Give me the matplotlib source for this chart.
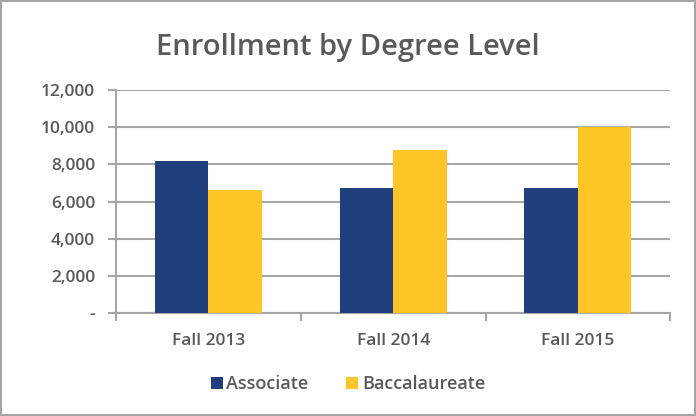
import matplotlib
matplotlib.use('Agg')
from matplotlib import pyplot as plt
from matplotlib.patches import Rectangle
import numpy as np

# values
terms = ['Fall 2013', 'Fall 2014', 'Fall 2015']
associate = [8200, 6730, 6730]
baccalaureate = [6630, 8780, 10000]
y_ticks = [0, 2000, 4000, 6000, 8000, 10000, 12000]

navy = '#203f7c'
gold = '#fdc526'
grid_grey = '#a6a6a6'
text_grey = '#595959'

plt.rcParams['font.family'] = ['Open Sans', 'DejaVu Sans']

fig = plt.figure(figsize=(6.96, 4.16), dpi=100)
ax = fig.add_axes([0.1667, 0.247, 0.7963, 0.537])

x = np.arange(len(terms))
w = 0.29
ax.bar(x - w / 2, associate, w, color=navy, label='Associate', zorder=3)
ax.bar(x + w / 2, baccalaureate, w, color=gold, label='Baccalaureate', zorder=3)

ax.set_xlim(-0.5, len(terms) - 0.5)
ax.set_ylim(0, 12000)
ax.set_yticks(y_ticks)
ax.set_yticklabels(['-' if v == 0 else f'{v:,}' for v in y_ticks])
ax.set_xticks(x)
ax.set_xticklabels(terms)
ax.set_xticks(np.arange(len(terms) + 1) - 0.5, minor=True)

ax.grid(axis='y', color=grid_grey, linewidth=1.5, zorder=0)
for side in ['top', 'right']:
    ax.spines[side].set_visible(False)
for side in ['left', 'bottom']:
    ax.spines[side].set_color(grid_grey)
    ax.spines[side].set_linewidth(1.5)

ax.tick_params(axis='y', length=6, width=1.5, color=grid_grey, labelcolor=text_grey,
               labelsize=12.5, pad=9)
ax.tick_params(axis='x', which='major', length=0, labelcolor=text_grey, labelsize=12.5, pad=14)
ax.tick_params(axis='x', which='minor', length=6, width=1.5, color=grid_grey)
for lab in ax.get_xticklabels() + ax.get_yticklabels():
    lab.set_fontweight('semibold')

fig.text(0.5, 0.887, 'Enrollment by Degree Level', ha='center', va='center',
         fontsize=21, color=text_grey, fontweight='semibold')

leg = fig.legend(loc='center', bbox_to_anchor=(0.5, 0.077), ncol=2, frameon=False,
                 fontsize=13, handlelength=0.65, handleheight=0.65, columnspacing=2.1,
                 handletextpad=0.2)
for t in leg.get_texts():
    t.set_color(text_grey)
    t.set_fontweight('semibold')

fig.patches.append(Rectangle((0.002, 0.003), 0.996, 0.994, transform=fig.transFigure,
                             fill=False, edgecolor=grid_grey, linewidth=1.5))

fig.savefig('out.png', dpi=100)
